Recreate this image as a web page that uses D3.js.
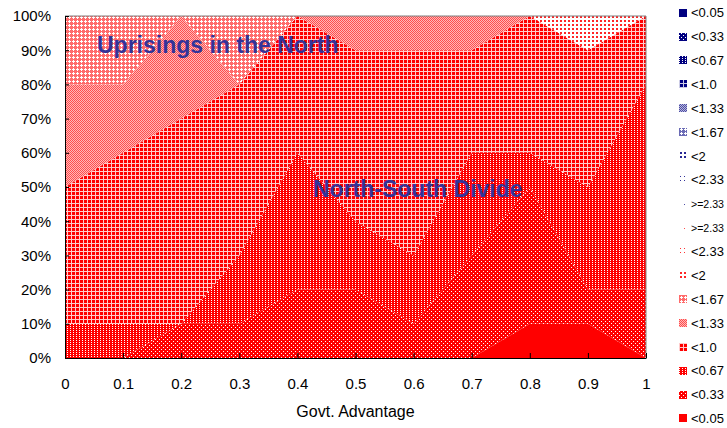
<!DOCTYPE html>
<html><head><meta charset="utf-8">
<script src="https://cdn.jsdelivr.net/npm/d3@7"></script>
<style>
body{margin:0;background:#fff;}
svg{display:block;font-family:"Liberation Sans",Arial,sans-serif;}
</style>
</head><body>
<svg id="chart" width="727" height="428"></svg>
<script>
// ---------------- data ----------------
const xValues = [0, 0.1, 0.2, 0.3, 0.4, 0.5, 0.6, 0.7, 0.8, 0.9, 1];
const xTickLabels = ["0", "0.1", "0.2", "0.3", "0.4", "0.5", "0.6", "0.7", "0.8", "0.9", "1"];
const yTickLabels = ["0%", "10%", "20%", "30%", "40%", "50%", "60%", "70%", "80%", "90%", "100%"];
const binLabels = ["<0.05", "<0.33", "<0.67", "<1.0", "<1.33", "<1.67", "<2", "<2.33", ">=2.33"];
const xTitle = "Govt. Advantage";
const noteNorth = "Uprisings in the North";
const noteDivide = "North-South Divide";

// red series (percent of runs), bottom of the stack first
const redLt005 = [0, 0, 0, 0, 0, 0, 0, 0, 10, 10, 0];
const redLt033 = [0, 0, 10, 10, 20, 20, 10, 30, 40, 10, 20];
const redLt067 = [10, 10, 0, 20, 40, 20, 20, 30, 10, 30, 60];
const redLt100 = [40, 50, 60, 50, 40, 50, 60, 30, 40, 40, 20];
const redLt133 = [30, 20, 30, 0, 0, 10, 10, 10, 0, 0, 0];
const redLt167 = [20, 20, 0, 20, 0, 0, 0, 0, 0, 0, 0];
const redLt200 = [0, 0, 0, 0, 0, 0, 0, 0, 0, 10, 0];
const redLt233 = [0, 0, 0, 0, 0, 0, 0, 0, 0, 0, 0];
const redGe233 = [0, 0, 0, 0, 0, 0, 0, 0, 0, 0, 0];
// blue series (all empty in this chart)
const blueGe233 = [0, 0, 0, 0, 0, 0, 0, 0, 0, 0, 0];
const blueLt233 = [0, 0, 0, 0, 0, 0, 0, 0, 0, 0, 0];
const blueLt200 = [0, 0, 0, 0, 0, 0, 0, 0, 0, 0, 0];
const blueLt167 = [0, 0, 0, 0, 0, 0, 0, 0, 0, 0, 0];
const blueLt133 = [0, 0, 0, 0, 0, 0, 0, 0, 0, 0, 0];
const blueLt100 = [0, 0, 0, 0, 0, 0, 0, 0, 0, 0, 0];
const blueLt067 = [0, 0, 0, 0, 0, 0, 0, 0, 0, 0, 0];
const blueLt033 = [0, 0, 0, 0, 0, 0, 0, 0, 0, 0, 0];
const blueLt005 = [0, 0, 0, 0, 0, 0, 0, 0, 0, 0, 0];

// stacking order (bottom -> top)
const redArrays = [redLt005, redLt033, redLt067, redLt100, redLt133, redLt167, redLt200, redLt233, redGe233];
const blueArrays = [blueLt005, blueLt033, blueLt067, blueLt100, blueLt133, blueLt167, blueLt200, blueLt233, blueGe233];

const series = [];
redArrays.forEach((arr, i) => series.push({key: "r" + i, color: "red", bin: i, label: binLabels[i], values: arr}));
for (let i = 8; i >= 0; i--) series.push({key: "b" + i, color: "blue", bin: i, label: binLabels[i], values: blueArrays[i]});

const table = xValues.map((xv, j) => {
  const row = {x: xv};
  series.forEach(s => row[s.key] = s.values[j]);
  return row;
});

// ---------------- drawing ----------------
const svg = d3.select("#chart");
const defs = svg.append("defs");
const RED = "#FF0000", BLUE = "#000080";

// texture per bin: tile ("1" = ink, "0" = paper) and how far ink / paper are mixed toward white
const textures = [
  {rows: ["1"], ink: 0, paper: 0},
  {rows: ["1111", "1011", "1111", "1110"], ink: 0, paper: 1},
  {rows: ["101", "111"], ink: 0, paper: 1},
  {rows: ["1110", "1110", "1110", "0000"], ink: 0, paper: 0.8},
  {rows: ["10", "01"], ink: 0.3, paper: 0.72},
  {rows: ["1011", "0001", "1011", "1111"], ink: 0.42, paper: 1},
  {rows: ["1100", "1100", "0000", "0000"], ink: 0.15, paper: 1},
  {rows: ["1000", "0000", "0000", "0000"], ink: 0.2, paper: 1},
  {rows: ["100000", "000000", "000000", "000000", "000000", "000000"], ink: 0.3, paper: 1}
];

function makePattern(id, col, tex) {
  const rows = tex.rows, h = rows.length, w = rows[0].length;
  const mix = d3.interpolateRgb(col, "#FFFFFF");
  const p = defs.append("pattern").attr("id", id)
    .attr("patternUnits", "userSpaceOnUse").attr("width", w).attr("height", h);
  let dInk = "", dPaper = "";
  rows.forEach((r, yy) => r.split("").forEach((c, xx) => {
    const sq = `M${xx},${yy}h1v1h-1z`;
    if (c === "1") dInk += sq; else dPaper += sq;
  }));
  if (dInk) p.append("path").attr("d", dInk).attr("fill", mix(tex.ink));
  if (dPaper) p.append("path").attr("d", dPaper).attr("fill", mix(tex.paper));
}
textures.forEach((tex, i) => {
  makePattern("pr" + i, RED, tex);
  makePattern("pb" + i, BLUE, tex);
});
const fillOf = s => `url(#p${s.color === "red" ? "r" : "b"}${s.bin})`;

const x = d3.scaleLinear().domain([0, 1]).range([65, 646]);
const y = d3.scaleLinear().domain([0, 1]).range([358, 16]);

const stacked = d3.stack().keys(series.map(s => s.key)).offset(d3.stackOffsetExpand)(table);
const area = d3.area().x(d => x(d.data.x)).y0(d => y(d[0])).y1(d => y(d[1]));

svg.append("g").selectAll("path").data(stacked).join("path")
  .attr("d", area)
  .attr("fill", (d, i) => fillOf(series[i]))
  .attr("stroke", "none");

// plot border (top/right)
svg.append("path").attr("d", `M${x(0)},${y(1)}H${x(1)}V${y(0)}`)
  .attr("fill", "none").attr("stroke", "#808080").attr("stroke-width", 1);

// axes
const yAxis = d3.axisLeft(y).tickValues(d3.range(0, 11).map(i => i / 10))
  .tickFormat((d, i) => yTickLabels[i]).tickSizeInner(-4).tickSizeOuter(0).tickPadding(14);
const gy = svg.append("g").attr("transform", `translate(${x(0)},0)`).call(yAxis);
gy.selectAll("text").attr("font-size", 15).attr("font-family", "Liberation Sans, Arial, sans-serif").attr("fill", "#000");
gy.selectAll("line,path").attr("stroke", "#000");

const xAxis = d3.axisBottom(x).tickValues(xValues)
  .tickFormat((d, i) => xTickLabels[i]).tickSizeInner(-5).tickSizeOuter(0).tickPadding(20);
const gx = svg.append("g").attr("transform", `translate(0,${y(0)})`).call(xAxis);
gx.selectAll("text").attr("font-size", 15).attr("font-family", "Liberation Sans, Arial, sans-serif").attr("fill", "#000");
gx.selectAll("line,path").attr("stroke", "#000");

svg.append("text").attr("x", (x(0) + x(1)) / 2).attr("y", 417)
  .attr("text-anchor", "middle").attr("font-size", 16).attr("fill", "#000").text(xTitle);

// annotations
svg.append("text").attr("x", 97).attr("y", 53).attr("font-size", 23).attr("font-weight", "bold")
  .attr("fill", "#333399").text(noteNorth);
svg.append("text").attr("x", 313).attr("y", 197).attr("font-size", 23).attr("font-weight", "bold")
  .attr("fill", "#333399").text(noteDivide);

// legend (top of stack first)
const legendItems = series.slice().reverse();
const lg = svg.append("g");
legendItems.forEach((s, i) => {
  const cy = 12.7 + i * 23.87;
  lg.append("rect").attr("x", 679).attr("y", Math.round(cy - 4)).attr("width", 8).attr("height", 8)
    .attr("fill", fillOf(s));
  const t = lg.append("text").attr("x", 691).attr("y", cy + 4.7).attr("fill", "#000").text(s.label);
  if (s.label.length > 5) t.attr("font-size", 11.5).attr("textLength", 33).attr("lengthAdjust", "spacingAndGlyphs");
  else t.attr("font-size", 13);
});
</script>
</body></html>
